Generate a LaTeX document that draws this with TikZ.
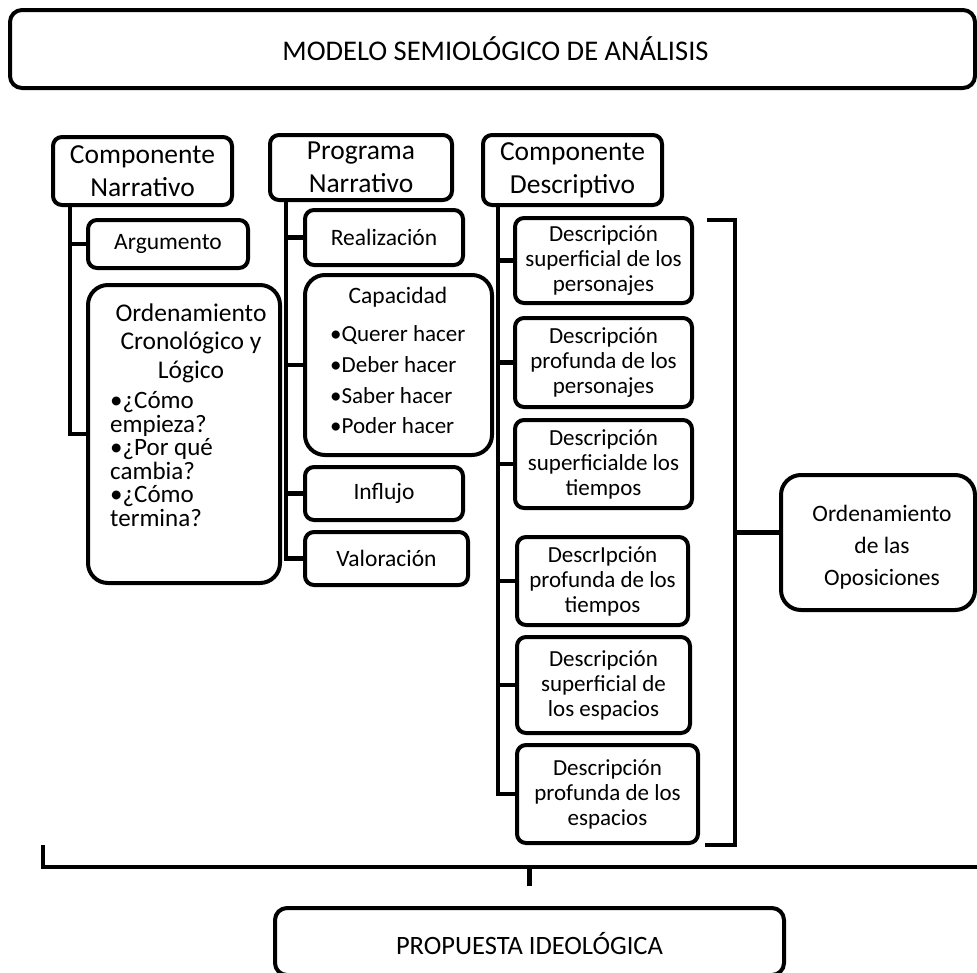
\documentclass[tikz,border=0pt]{standalone}
\usepackage{fontspec}
\setmainfont{Carlito}
\begin{document}
\begin{tikzpicture}[x=1pt,y=-1pt,
  box/.style={draw, line width=4pt, rounded corners=9pt, inner sep=0pt, align=center},
  bigbox/.style={box, rounded corners=20pt},
  conn/.style={line width=4.5pt},
  fbig/.style={font=\fontsize{27.5}{33}\selectfont},
  fmid/.style={font=\fontsize{23.5}{25}\selectfont},
  fdesc/.style={font=\fontsize{23}{25}\selectfont}]
\useasboundingbox (0,0) rectangle (977,972);
% top and bottom boxes
\node[box, rounded corners=12pt, minimum width=965pt, minimum height=78pt, font=\fontsize{28.5}{33}\selectfont] (top) at (492.5,49) {\hspace*{6pt}MODELO SEMIOLÓGICO DE ANÁLISIS};
\node[box, rounded corners=12pt, minimum width=509pt, minimum height=67pt, font=\fontsize{26.5}{30}\selectfont, text depth=0pt] (PI) at (529.5,941.5) {\raisebox{-4pt}{PROPUESTA IDEOLÓGICA}};
% column heads
\node[box, fbig, minimum width=179pt, minimum height=68pt] (CN) at (142.5,171) {Componente\\Narrativo};
\node[box, fbig, minimum width=182pt, minimum height=65pt] (PN) at (361,167.5) {Programa\\Narrativo};
\node[box, fbig, minimum width=179pt, minimum height=70pt] (CD) at (572.5,170) {Componente\\Descriptivo};
% narrative component
\node[box, fmid, minimum width=160pt, minimum height=48pt] (Arg) at (168,244) {Argumento};
\node[bigbox, minimum width=192pt, minimum height=298pt] (OCL) at (184,434) {};
\node[font=\fontsize{25.5}{28.5}\selectfont, align=center, inner sep=0pt] (OCLt) at (191,343) {Ordenamiento\\Cronológico y\\Lógico};
\node[font=\fontsize{25}{23.6}\selectfont, align=left, inner sep=0pt, anchor=west] (OCLb) at (110,459) {•¿Cómo\\empieza?\\•¿Por qué\\cambia?\\•¿Cómo\\termina?};
% narrative program
\node[box, fmid, minimum width=158pt, minimum height=55pt] (Rea) at (384,237.5) {Realización};
\node[bigbox, minimum width=187pt, minimum height=180pt] (Cap) at (398.5,365) {};
\node[font=\fontsize{23.5}{25}\selectfont, inner sep=0pt] (Capt) at (398,297) {Capacidad};
\node[font=\fontsize{23}{30.7}\selectfont, align=left, inner sep=0pt, anchor=west] (Capb) at (330,380) {•Querer hacer\\•Deber hacer\\•Saber hacer\\•Poder hacer};
\node[box, fmid, minimum width=158pt, minimum height=53pt] (Inf) at (384,493.5) {Influjo};
\node[box, fmid, minimum width=163pt, minimum height=53pt] (Val) at (386.5,558.5) {Valoración};
% descriptive component
\node[box, fdesc, minimum width=177pt, minimum height=85pt] (D1) at (603.5,260.5) {Descripción\\superficial de los\\personajes};
\node[box, fdesc, minimum width=177pt, minimum height=89pt] (D2) at (603.5,362.5) {Descripción\\profunda de los\\personajes};
\node[box, fdesc, minimum width=177pt, minimum height=88pt] (D3) at (603.5,464) {Descripción\\superficialde los\\tiempos};
\node[box, fdesc, minimum width=171pt, minimum height=88pt] (D4) at (602.5,581) {DescrIpción\\profunda de los\\tiempos};
\node[box, fdesc, minimum width=173pt, minimum height=96pt] (D5) at (603.5,685) {Descripción\\superficial de\\los espacios};
\node[box, fdesc, minimum width=181pt, minimum height=98pt] (D6) at (607.5,794) {Descripción\\profunda de los\\espacios};
\node[bigbox, minimum width=194pt, minimum height=135pt] (OO) at (878,542.5) {};
\node[font=\fontsize{23.5}{32}\selectfont, align=center, inner sep=0pt] (OOt) at (882,547) {Ordenamiento\\de las\\Oposiciones};
% spines
\coordinate (sN) at ([xshift=19pt]CN.south west);
\coordinate (sP) at ([xshift=18pt]PN.south west);
\coordinate (sD) at ([xshift=17pt]CD.south west);
\draw[conn] (sN) |- (OCL.west);
\draw[conn] (Arg.west) -- (Arg.west -| sN);
\draw[conn] (sP) |- (Val.west);
\draw[conn] (Rea.west) -- (Rea.west -| sP);
\draw[conn] (Cap.west) -- (Cap.west -| sP);
\draw[conn] (Inf.west) -- (Inf.west -| sP);
\draw[conn] (sD) |- (D6.west);
\foreach \n in {D1,D2,D3,D4,D5} \draw[conn] (\n.west) -- (\n.west -| sD);
% bracket
\coordinate (bk1) at (707,220);
\coordinate (bk2) at (735,220);
\coordinate (bk3) at (735,845);
\coordinate (bk4) at (705,845);
\draw[conn] (bk1) -- (bk2) -- (bk3) -- (bk4);
\draw[conn] ([yshift=10pt]OO.west) -- ([yshift=10pt]OO.west -| bk2);
% bottom bar
\coordinate (L1) at (43,845);
\coordinate (L2) at (43,867);
\coordinate (R1) at (977,867);
\draw[conn] (L1) -- (L2) -- (R1);
\coordinate (st) at ([yshift=20pt]PI.north);
\draw[conn] (st) -- (st |- R1);
\end{tikzpicture}
\end{document}
